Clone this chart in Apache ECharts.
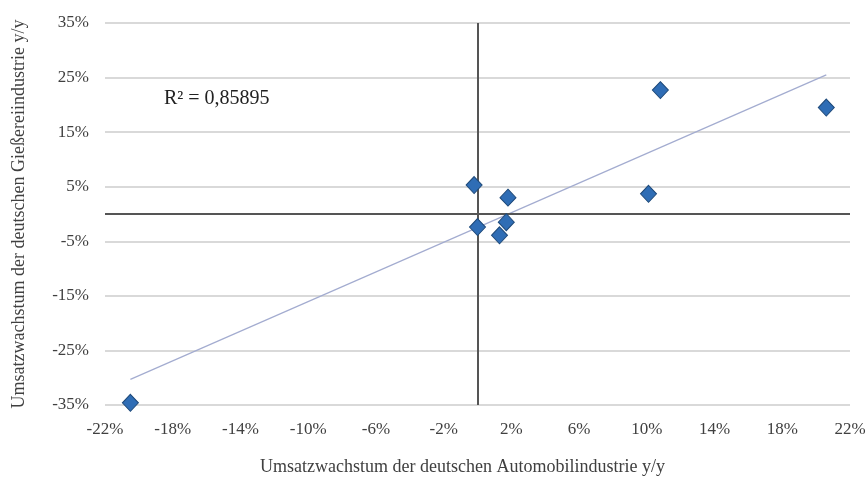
<!DOCTYPE html>
<html>
<head>
<meta charset="utf-8">
<script src="https://cdn.jsdelivr.net/npm/echarts@6/dist/echarts.min.js"></script>
<style>
  html, body { margin: 0; padding: 0; background: #fff; }
  #chart { width: 868px; height: 477px; }
</style>
</head>
<body>
<div id="chart"></div>
<script>
// Wachstum Automobil (x) vs. Gießerei (y), in %
const autoGrowth = [-20.5, -0.2, 0.0, 1.3, 1.7, 1.8, 10.1, 10.8, 20.6]
const foundryGrowth = [-34.6, 5.3, -2.4, -3.9, -1.5, 3.0, 3.7, 22.7, 19.5]

// lineare Trendlinie (Endpunkte aus der Grafik)
const trendX = [-20.5, 20.6]
const trendY = [-30.3, 25.5]

const rSquared = 'R² = 0,85895'

const font = 'Liberation Serif'
const textColor = '#404040'

const c = echarts.init(document.getElementById('chart'))
c.setOption({
  animation: false,
  grid: { left: 105, right: 18, top: 23, bottom: 72, outerBoundsMode: 'none' },
  xAxis: {
    type: 'value', min: -22, max: 22, interval: 4,
    name: 'Umsatzwachstum der deutschen Automobilindustrie y/y',
    nameLocation: 'middle', nameGap: 53,
    nameTextStyle: { fontFamily: font, fontSize: 18, color: textColor, padding: [0, 30, 0, 0] },
    axisLine: { show: false, onZero: false },
    axisTick: { show: false },
    splitLine: { show: false },
    axisLabel: { fontFamily: font, fontSize: 17, color: textColor, margin: 16, formatter: v => v + '%' },
  },
  yAxis: {
    type: 'value', min: -35, max: 35, interval: 10,
    name: 'Umsatzwachstum der deutschen Gießereiindustrie y/y',
    nameLocation: 'middle', nameGap: 77,
    nameTextStyle: { fontFamily: font, fontSize: 18, color: textColor },
    axisLine: { show: false, onZero: false },
    axisTick: { show: false },
    splitLine: { lineStyle: { color: '#d9d9d9', width: 2 } },
    axisLabel: { fontFamily: font, fontSize: 17, color: textColor, margin: 16, formatter: v => v + '%' },
  },
  graphic: [{
    type: 'text', left: 164, top: 89,
    style: { text: rSquared, font: '20px "Liberation Serif"', fill: '#222' },
  }],
  series: [
    {
      type: 'line',
      data: trendX.map((x, i) => [x, trendY[i]]),
      symbol: 'none',
      lineStyle: { color: '#a3acd0', width: 1.2 },
      z: 2,
      markLine: {
        silent: true, symbol: 'none', label: { show: false },
        lineStyle: { color: '#555', width: 2, type: 'solid' },
        data: [{ xAxis: 0 }, { yAxis: 0 }],
      },
    },
    {
      type: 'scatter',
      data: autoGrowth.map((x, i) => [x, foundryGrowth[i]]),
      symbol: 'diamond', symbolSize: [16, 17],
      itemStyle: { color: '#2f6db5', borderColor: '#1f4a7a', borderWidth: 1, opacity: 1 },
      z: 5,
    },
  ],
})
</script>
</body>
</html>
